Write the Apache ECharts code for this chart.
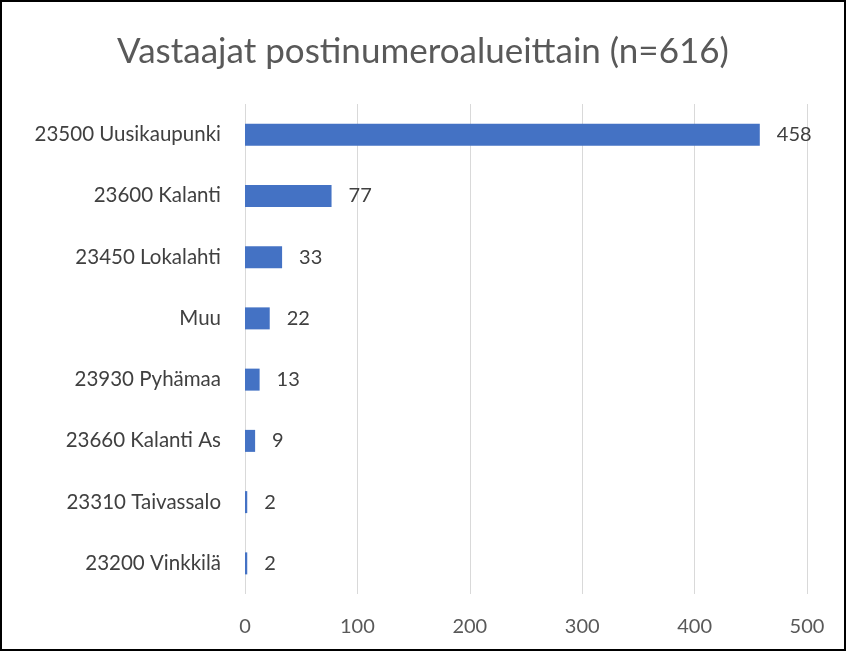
<!DOCTYPE html>
<html>
<head>
<meta charset="utf-8">
<script src="https://cdn.jsdelivr.net/npm/echarts@6/dist/echarts.min.js"></script>
<style>
  html,body{margin:0;padding:0;background:#fff;}
  #chart{width:846px;height:651px;box-sizing:border-box;border:2px solid #000;}
</style>
</head>
<body>
<div id="chart"></div>
<script>
var categories = ['23500 Uusikaupunki','23600 Kalanti','23450 Lokalahti','Muu','23930 Pyhämaa','23660 Kalanti As','23310 Taivassalo','23200 Vinkkilä'];
var values = [458, 77, 33, 22, 13, 9, 2, 2];
var titleText = 'Vastaajat postinumeroalueittain (n=616)';

var chartsDom = document.getElementById('chart');
var myChart = echarts.init(chartsDom);
var font = 'Lato, "Open Sans", sans-serif';

var option = {
  animation: false,
  textStyle: { fontFamily: font },
  title: {
    text: titleText,
    left: 'center',
    top: 27,
    textStyle: { fontFamily: font, fontSize: 35, fontWeight: 'normal', color: '#595959' }
  },
  grid: { left: 243, right: 37, top: 102, bottom: 55, containLabel: false },
  xAxis: {
    type: 'value',
    min: 0, max: 500, interval: 100,
    axisLine: { show: false },
    axisTick: { show: false },
    axisLabel: { color: '#595959', fontSize: 20, margin: 23, fontFamily: font },
    splitLine: { lineStyle: { color: '#d9d9d9', width: 1 } }
  },
  yAxis: {
    type: 'category',
    inverse: true,
    data: categories,
    axisLine: { show: false },
    axisTick: { show: false },
    axisLabel: { color: '#404040', fontSize: 20.5, margin: 24, fontFamily: font }
  },
  series: [{
    type: 'bar',
    data: values,
    barWidth: 22,
    itemStyle: { color: '#4472C4' },
    label: { show: true, position: 'right', distance: 17, color: '#404040', fontSize: 20, fontFamily: font }
  }]
};
myChart.setOption(option);
</script>
</body>
</html>
